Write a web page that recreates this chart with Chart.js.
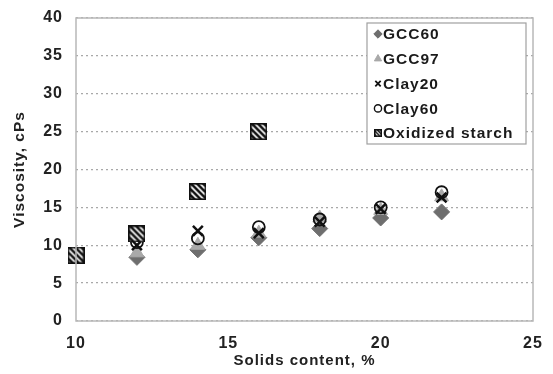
<!DOCTYPE html>
<html>
<head>
<meta charset="utf-8">
<script src="https://cdn.jsdelivr.net/npm/chart.js@4/dist/chart.umd.min.js"></script>
<style>
  html, body { margin: 0; padding: 0; background: #fff; }
  #wrap { width: 553px; height: 374px; }
</style>
</head>
<body>
<div id="wrap"><canvas id="chart" width="553" height="374"></canvas></div>
<script>
// solids content (%) and viscosity (cPs) per series
const solids = [12, 14, 16, 18, 20, 22];
const gcc60 = [8.4, 9.4, 11.0, 12.2, 13.6, 14.4];
const gcc97 = [9.0, 10.0, 11.6, 13.6, 14.6, 16.4];
const clay20 = [10.0, 11.9, 11.6, 13.1, 14.8, 16.3];
const clay60 = [10.4, 10.9, 12.4, 13.4, 15.0, 17.0];
const starchSolids = [10, 12, 14, 16];
const starch = [8.7, 11.5, 17.1, 25.0];
const seriesNames = ['GCC60', 'GCC97', 'Clay20', 'Clay60', 'Oxidized starch'];

const FONT = "'Liberation Sans', Arial, sans-serif";

function pts(xs, ys) {
  return xs.map((x, i) => ({ x: x, y: ys[i] }));
}

// hatched square marker
function hatchBox(size, step, lw) {
  const c = document.createElement('canvas');
  c.width = size; c.height = size;
  const g = c.getContext('2d');
  g.fillStyle = '#fff';
  g.fillRect(0, 0, size, size);
  g.save();
  g.beginPath();
  g.rect(1, 1, size - 2, size - 2);
  g.clip();
  g.strokeStyle = '#111';
  g.lineWidth = lw;
  for (let k = -size; k < size * 2; k += step) {
    g.beginPath();
    g.moveTo(k, 0);
    g.lineTo(k + size, size);
    g.stroke();
  }
  g.restore();
  g.strokeStyle = '#111';
  g.lineWidth = 1.6;
  g.strokeRect(0.8, 0.8, size - 1.6, size - 1.6);
  return c;
}
const bigHatch = hatchBox(17, 6, 2.6);
const smallHatch = hatchBox(8, 3.5, 1.4);

const styles = [
  { pointStyle: 'rectRot', radius: 8, backgroundColor: '#6e6e6e', borderColor: '#6e6e6e', borderWidth: 1 },
  { pointStyle: 'triangle', radius: 8, backgroundColor: '#a9a9a9', borderColor: '#a9a9a9', borderWidth: 1 },
  { pointStyle: 'crossRot', radius: 7, backgroundColor: '#111', borderColor: '#111', borderWidth: 2.5 },
  { pointStyle: 'circle', radius: 6, backgroundColor: 'rgba(0,0,0,0)', borderColor: '#111', borderWidth: 1.8 },
  { pointStyle: bigHatch, radius: 8, backgroundColor: '#fff', borderColor: '#111', borderWidth: 1 }
];

const datasets = [
  pts(solids, gcc60), pts(solids, gcc97), pts(solids, clay20), pts(solids, clay60), pts(starchSolids, starch)
].map((d, i) => Object.assign({
  label: seriesNames[i],
  data: d,
  showLine: false,
  clip: false,
  order: 5 - i,
  hoverRadius: styles[i].radius
}, styles[i], { pointRadius: styles[i].radius }));

const spacingPlugin = {
  id: 'spacing',
  beforeInit(chart) { chart.ctx.letterSpacing = '1px'; },
  beforeDraw(chart) { chart.ctx.letterSpacing = '1px'; }
};

// plot frame and boxed legend inside the plot
const framePlugin = {
  id: 'frame',
  afterDatasetsDraw(chart) {
    const { ctx, chartArea: a } = chart;
    ctx.save();
    ctx.strokeStyle = '#b8b8b8';
    ctx.lineWidth = 1.5;
    ctx.strokeRect(a.left, a.top, a.right - a.left, a.bottom - a.top);

    // legend box
    const bx = 367, by = 23, bw = 159, bh = 121;
    ctx.fillStyle = '#fff';
    ctx.fillRect(bx, by, bw, bh);
    ctx.strokeStyle = '#a0a0a0';
    ctx.lineWidth = 1.2;
    ctx.strokeRect(bx, by, bw, bh);
    ctx.font = 'bold 15.5px ' + FONT;
    ctx.letterSpacing = '1px';
    ctx.textBaseline = 'middle';
    ctx.textAlign = 'left';
    seriesNames.forEach((name, i) => {
      const cy = 34 + i * 24.8;
      const st = styles[i];
      if (i === 4) {
        ctx.drawImage(smallHatch, 374, cy - 4);
      } else {
        const opt = {
          pointStyle: st.pointStyle,
          radius: i === 2 ? 3.8 : (i === 3 ? 3.6 : 4.2),
          rotation: 0,
          borderWidth: i === 2 ? 1.8 : (i === 3 ? 1.4 : 1)
        };
        ctx.fillStyle = st.backgroundColor;
        ctx.strokeStyle = st.borderColor;
        ctx.lineWidth = opt.borderWidth;
        Chart.helpers.drawPoint(ctx, opt, 378, cy);
      }
      ctx.fillStyle = '#1a1a1a';
      ctx.fillText(name, 383, cy + 1);
    });
    ctx.restore();
  }
};

new Chart(document.getElementById('chart').getContext('2d'), {
  type: 'scatter',
  data: { datasets: datasets },
  plugins: [spacingPlugin, framePlugin],
  options: {
    responsive: false,
    animation: false,
    layout: { padding: { top: 18, right: 20, left: 0, bottom: 0 } },
    plugins: { legend: { display: false }, tooltip: { enabled: false } },
    scales: {
      x: {
        type: 'linear',
        min: 10, max: 25,
        ticks: { stepSize: 5, color: '#222', font: { family: FONT, size: 16, weight: 'bold' }, padding: 5 },
        grid: { display: false },
        border: { display: false },
        title: { display: true, text: 'Solids content, %', color: '#222', font: { family: FONT, size: 15, weight: 'bold' }, padding: { top: 6 } },
        afterFit(s) { s.height = 53; s.paddingLeft = 0; s.paddingRight = 0; }
      },
      y: {
        min: 0, max: 40,
        ticks: { stepSize: 5, color: '#222', font: { family: FONT, size: 16, weight: 'bold' }, padding: 13 },
        grid: { color: '#a8a8a8', lineWidth: 1.3, drawTicks: false },
        border: { display: false, dash: [2, 3] },
        title: { display: true, text: 'Viscosity, cPs', color: '#222', font: { family: FONT, size: 15.5, weight: 'bold' }, padding: { top: 10 } },
        afterFit(s) { s.width = 76; s.paddingTop = 0; s.paddingBottom = 0; }
      }
    }
  }
});
</script>
</body>
</html>
